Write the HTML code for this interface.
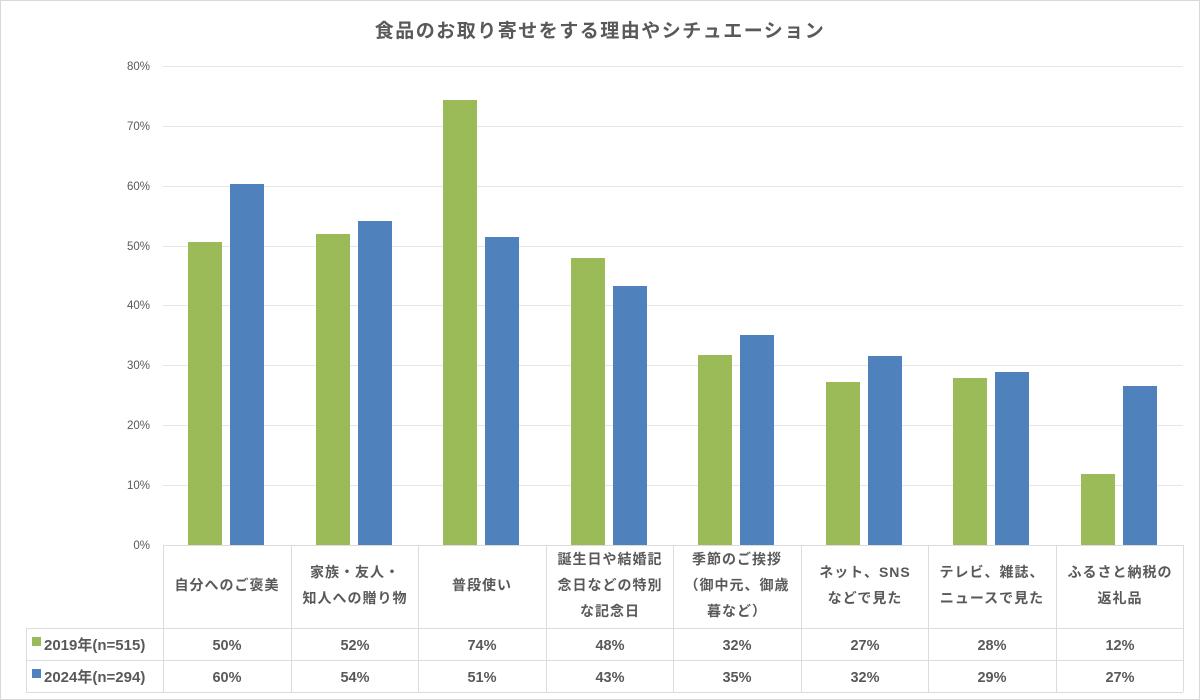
<!DOCTYPE html>
<html><head><meta charset="utf-8"><style>
html,body{margin:0;padding:0;background:#fff}
svg{display:block}
text{font-family:"Liberation Sans","Noto Sans CJK JP",sans-serif}
</style></head><body>
<svg width="1200" height="700" viewBox="0 0 1200 700" xmlns="http://www.w3.org/2000/svg">
<rect x="0.5" y="0.5" width="1199" height="699" fill="#fff" stroke="#d9d9d9"/>
<text x="600" y="37" text-anchor="middle" font-size="19" font-weight="bold" fill="#595959" letter-spacing="1.5">食品のお取り寄せをする理由やシチュエーション</text>
<g stroke="#e6e6e6" stroke-width="1">
<line x1="163" x2="1183" y1="66.5" y2="66.5"/><line x1="163" x2="1183" y1="126.5" y2="126.5"/>
<line x1="163" x2="1183" y1="186.5" y2="186.5"/><line x1="163" x2="1183" y1="246.5" y2="246.5"/>
<line x1="163" x2="1183" y1="305.5" y2="305.5"/><line x1="163" x2="1183" y1="365.5" y2="365.5"/>
<line x1="163" x2="1183" y1="425.5" y2="425.5"/><line x1="163" x2="1183" y1="485.5" y2="485.5"/>
</g>
<g font-size="11.5" fill="#595959" text-anchor="end">
<text x="150" y="70">80%</text><text x="150" y="130">70%</text><text x="150" y="190">60%</text><text x="150" y="250">50%</text>
<text x="150" y="309">40%</text><text x="150" y="369">30%</text><text x="150" y="429">20%</text><text x="150" y="489">10%</text><text x="150" y="549">0%</text>
</g>
<g fill="#9bbb59">
<rect x="188" y="242" width="34" height="303"/>
<rect x="316" y="234" width="34" height="311"/>
<rect x="443" y="100" width="34" height="445"/>
<rect x="571" y="258" width="34" height="287"/>
<rect x="698" y="355" width="34" height="190"/>
<rect x="826" y="382" width="34" height="163"/>
<rect x="953" y="378" width="34" height="167"/>
<rect x="1081" y="474" width="34" height="71"/>
</g>
<g fill="#4f81bd">
<rect x="230" y="184" width="34" height="361"/>
<rect x="358" y="221" width="34" height="324"/>
<rect x="485" y="237" width="34" height="308"/>
<rect x="613" y="286" width="34" height="259"/>
<rect x="740" y="335" width="34" height="210"/>
<rect x="868" y="356" width="34" height="189"/>
<rect x="995" y="372" width="34" height="173"/>
<rect x="1123" y="386" width="34" height="159"/>
</g>
<g stroke="#dcdcdc" stroke-width="1" fill="none">
<line x1="163" x2="1183" y1="545.5" y2="545.5"/>
<line x1="26" x2="1183" y1="628.5" y2="628.5"/>
<line x1="26" x2="1183" y1="660.5" y2="660.5"/>
<line x1="26" x2="1183" y1="692.5" y2="692.5"/>
<line x1="26.5" x2="26.5" y1="628" y2="692"/>
<line x1="163.5" x2="163.5" y1="545" y2="692"/>
<line x1="291.5" x2="291.5" y1="545" y2="692"/>
<line x1="418.5" x2="418.5" y1="545" y2="692"/>
<line x1="546.5" x2="546.5" y1="545" y2="692"/>
<line x1="673.5" x2="673.5" y1="545" y2="692"/>
<line x1="801.5" x2="801.5" y1="545" y2="692"/>
<line x1="928.5" x2="928.5" y1="545" y2="692"/>
<line x1="1056.5" x2="1056.5" y1="545" y2="692"/>
<line x1="1183.5" x2="1183.5" y1="545" y2="692"/>
</g>
<g font-size="14" font-weight="bold" fill="#595959" text-anchor="middle" letter-spacing="1">
<text x="227" y="590">自分へのご褒美</text>
<text x="355" y="577">家族・友人・</text><text x="355" y="603">知人への贈り物</text>
<text x="482" y="590">普段使い</text>
<text x="610" y="564">誕生日や結婚記</text><text x="610" y="590">念日などの特別</text><text x="610" y="616">な記念日</text>
<text x="737" y="564">季節のご挨拶</text><text x="737" y="590">（御中元、御歳</text><text x="737" y="616">暮など）</text>
<text x="865" y="577">ネット、SNS</text><text x="865" y="603">などで見た</text>
<text x="992" y="577">テレビ、雑誌、</text><text x="992" y="603">ニュースで見た</text>
<text x="1120" y="577">ふるさと納税の</text><text x="1120" y="603">返礼品</text>
</g>
<rect x="32" y="637" width="9" height="9" fill="#9bbb59"/>
<rect x="32" y="669" width="9" height="9" fill="#4f81bd"/>
<g font-size="15" font-weight="bold" fill="#595959">
<text x="44" y="650">2019年(n=515)</text>
<text x="44" y="682">2024年(n=294)</text>
</g>
<g font-size="14.5" font-weight="bold" fill="#595959" text-anchor="middle">
<text x="227" y="650">50%</text><text x="355" y="650">52%</text><text x="482" y="650">74%</text><text x="610" y="650">48%</text>
<text x="737" y="650">32%</text><text x="865" y="650">27%</text><text x="992" y="650">28%</text><text x="1120" y="650">12%</text>
<text x="227" y="682">60%</text><text x="355" y="682">54%</text><text x="482" y="682">51%</text><text x="610" y="682">43%</text>
<text x="737" y="682">35%</text><text x="865" y="682">32%</text><text x="992" y="682">29%</text><text x="1120" y="682">27%</text>
</g>
</svg>
</body></html>
